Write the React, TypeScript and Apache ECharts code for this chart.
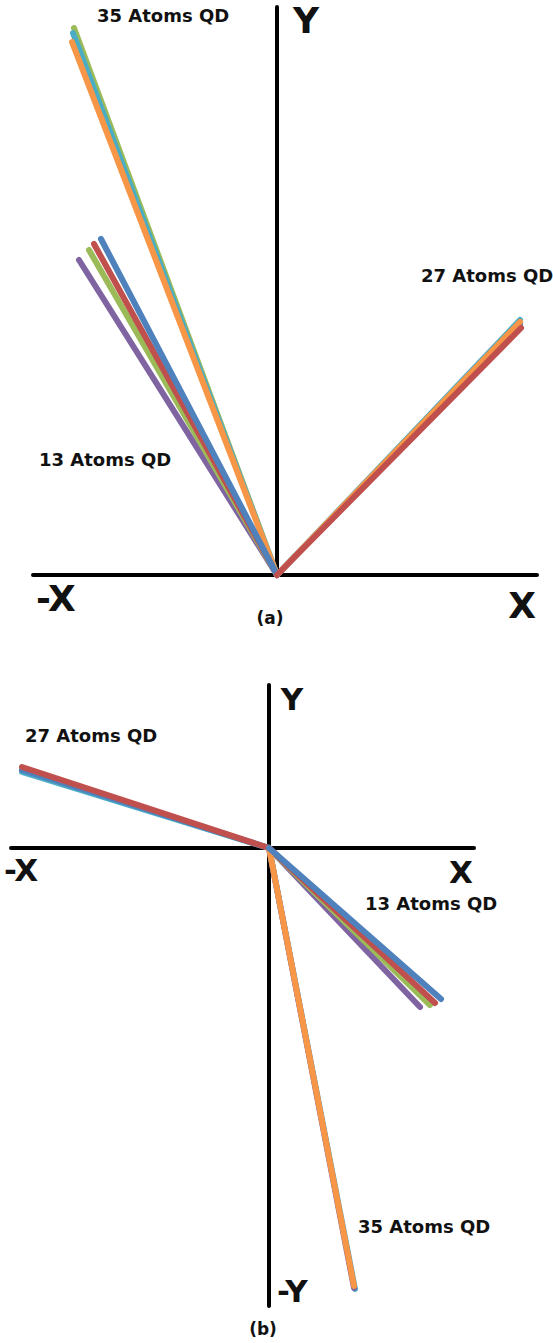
import React, { useEffect, useRef } from "react";
import * as echarts from "echarts";

// Office-style palette used for the individual vectors
const BLUE = "#4F81BD";
const RED = "#C0504D";
const GREEN = "#9BBB59";
const PURPLE = "#8064A2";
const AQUA = "#4BACC6";
const ORANGE = "#F79646";

// Panel (a): vector end points [x, y]; every vector starts at the origin
const a35Colors = [GREEN, AQUA, ORANGE];
const a35Ends = [[-2.03, 5.47], [-2.04, 5.42], [-2.05, 5.33]];
const a13Colors = [PURPLE, GREEN, RED, BLUE];
const a13Ends = [[-1.98, 3.15], [-1.88, 3.25], [-1.83, 3.31], [-1.76, 3.36]];
const a27Colors = [AQUA, BLUE, ORANGE, RED];
const a27Ends = [[2.43, 2.55], [2.43, 2.51], [2.43, 2.53], [2.44, 2.47]];

// Panel (b)
const b27Colors = [AQUA, BLUE, RED];
const b27Ends = [[-2.47, 0.76], [-2.47, 0.78], [-2.47, 0.81]];
const b13Colors = [PURPLE, GREEN, RED, BLUE];
const b13Ends = [[1.51, -1.59], [1.61, -1.57], [1.66, -1.55], [1.72, -1.51]];
const b35Colors = [AQUA, PURPLE, ORANGE];
const b35Ends = [[0.86, -4.41], [0.85, -4.40], [0.85, -4.38]];

// Axis extents for each panel
const aX = [-2.44, 2.6];
const aY = [0, 5.68];
const bX = [-2.58, 2.05];
const bY = [-4.58, 1.63];

const FONT = "'DejaVu Sans', Verdana, sans-serif";
const INK = "#111111";

function vectorSeries(ends: number[][], colors: string[], axisIndex: number, group: string) {
  return ends.map((end, i) => ({
    type: "line",
    name: group,
    xAxisIndex: axisIndex,
    yAxisIndex: axisIndex,
    data: [[0, 0], end],
    showSymbol: false,
    symbol: "none",
    clip: false,
    silent: true,
    lineStyle: { color: colors[i], width: 6, cap: "round" },
    z: 3 + i,
  }));
}

function axis(grid: number, range: number[]) {
  return {
    type: "value",
    gridIndex: grid,
    min: range[0],
    max: range[1],
    axisLine: { show: true, onZero: true, lineStyle: { color: "#000", width: 4 } },
    axisTick: { show: false },
    axisLabel: { show: false },
    splitLine: { show: false },
  };
}

function label(text: string, x: number, y: number, size: number, align = "left") {
  return {
    type: "text",
    x,
    y,
    z: 50,
    style: {
      text,
      fill: INK,
      font: `bold ${size}px ${FONT}`,
      textAlign: align,
      textVerticalAlign: "middle",
    },
  };
}

export default function App() {
  const ref = useRef<HTMLDivElement>(null);

  useEffect(() => {
    document.body.style.margin = "0";
    if (!ref.current) return;
    const chart = echarts.init(ref.current, null, { renderer: "svg" });
    chart.setOption({
      animation: false,
      backgroundColor: "#ffffff",
      grid: [
        { left: 33, right: 16, top: 7, height: 568 },
        { left: 11, right: 79, top: 685, height: 621 },
      ],
      xAxis: [axis(0, aX), axis(1, bX)],
      yAxis: [axis(0, aY), axis(1, bY)],
      series: [
        ...vectorSeries(a35Ends, a35Colors, 0, "35 Atoms QD"),
        ...vectorSeries(a13Ends, a13Colors, 0, "13 Atoms QD"),
        ...vectorSeries(a27Ends, a27Colors, 0, "27 Atoms QD"),
        ...vectorSeries(b27Ends, b27Colors, 1, "27 Atoms QD"),
        ...vectorSeries(b13Ends, b13Colors, 1, "13 Atoms QD"),
        ...vectorSeries(b35Ends, b35Colors, 1, "35 Atoms QD"),
      ],
      graphic: [
        // panel (a)
        label("35 Atoms QD", 97, 15, 18),
        label("13 Atoms QD", 39, 459, 18),
        label("27 Atoms QD", 421, 275, 18),
        label("Y", 306, 20, 36, "center"),
        label("-X", 36, 598, 36),
        label("X", 522, 605, 36, "center"),
        label("(a)", 270, 618, 17, "center"),
        // panel (b)
        label("27 Atoms QD", 25, 735, 18),
        label("13 Atoms QD", 365, 903, 18),
        label("35 Atoms QD", 358, 1226, 18),
        label("Y", 292, 699, 31, "center"),
        label("-X", 4, 870, 31),
        label("X", 461, 872, 31, "center"),
        label("-Y", 277, 1291, 31),
        label("(b)", 263, 1329, 17, "center"),
      ],
    });
    return () => chart.dispose();
  }, []);

  return <div ref={ref} style={{ width: 553, height: 1343 }} />;
}
